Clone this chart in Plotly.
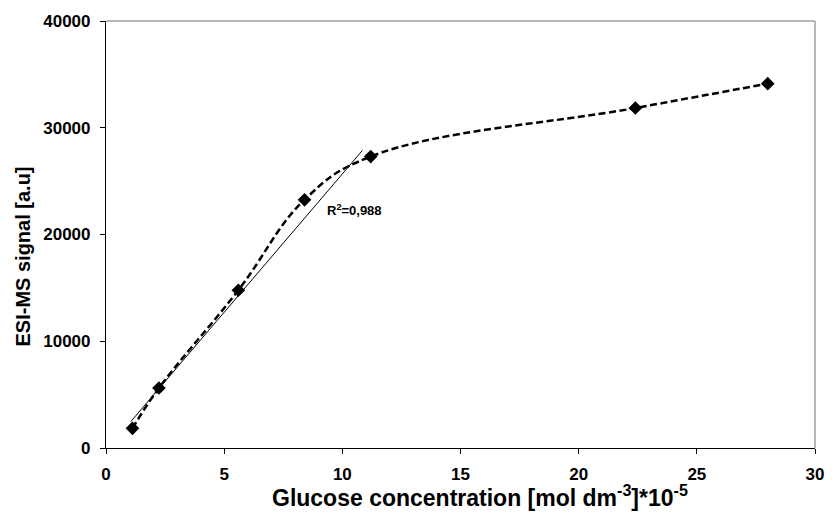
import plotly.graph_objects as go
import numpy as np

# Data
conc = [1.12, 2.24, 5.6, 8.4, 11.2, 22.4, 28.0]
signal = [1840, 5620, 14780, 23250, 27300, 31850, 34130]
fit_n = 5                     # points used for the linear trendline
trend_x = [1.05, 10.85]
r2_label = "R<sup>2</sup>=0,988"
x_ticks = [0, 5, 10, 15, 20, 25, 30]
y_ticks = [0, 10000, 20000, 30000, 40000]
x_title = "<b>Glucose concentration [mol dm<sup>-3</sup>]*10<sup>-5</sup></b>"
y_title = "<b>ESI-MS signal [a.u]</b>"

slope, intercept = np.polyfit(conc[:fit_n], signal[:fit_n], 1)
trend_y = [slope * x + intercept for x in trend_x]

font = "Liberation Sans, Arial, sans-serif"

fig = go.Figure()
fig.add_trace(go.Scatter(
    x=trend_x, y=trend_y, mode="lines",
    line=dict(color="black", width=1), hoverinfo="skip", showlegend=False))
fig.add_trace(go.Scatter(
    x=conc, y=signal, mode="lines+markers",
    line=dict(color="black", width=2.5, dash="7px,3.5px", shape="spline", smoothing=1.15),
    marker=dict(symbol="diamond", size=10.5, color="black"),
    showlegend=False))

fig.add_annotation(x=9.25, y=22250, text="<b>" + r2_label + "</b>", showarrow=False,
                   xanchor="left", yanchor="middle",
                   font=dict(family=font, size=13, color="black"))

# axis titles
fig.add_annotation(xref="paper", yref="paper", x=0.5, y=0, xshift=19, yshift=-48,
                   text=x_title, showarrow=False, xanchor="center", yanchor="middle",
                   font=dict(family=font, size=23, color="black"))
fig.add_annotation(xref="paper", yref="paper", x=0, y=0.5, xshift=-84, yshift=-22,
                   text=y_title, showarrow=False, textangle=-90,
                   xanchor="center", yanchor="middle",
                   font=dict(family=font, size=20, color="black"))

# grey plot-area border on top and right
fig.add_shape(type="line", xref="paper", yref="paper", x0=0, x1=1, y0=1, y1=1,
              line=dict(color="#a0a0a0", width=1.5))
fig.add_shape(type="line", xref="paper", yref="paper", x0=1, x1=1, y0=0, y1=1,
              line=dict(color="#a0a0a0", width=1.5))

fig.update_layout(
    width=836, height=525,
    margin=dict(l=106, r=12, t=18, b=77),
    paper_bgcolor="white", plot_bgcolor="white",
    font=dict(family=font, color="black"),
    xaxis=dict(range=[0, 30], tickvals=x_ticks,
               ticktext=["<b>%d</b>" % v for v in x_ticks],
               showgrid=False, zeroline=False,
               showline=True, linecolor="black", linewidth=1.2,
               ticks="outside", ticklen=5, tickcolor="black",
               ticklabelstandoff=5,
               tickfont=dict(size=17)),
    yaxis=dict(range=[0, 40000], tickvals=y_ticks,
               ticktext=["<b>%d</b>" % v for v in y_ticks],
               showgrid=False, zeroline=False,
               showline=True, linecolor="black", linewidth=1.2,
               ticks="outside", ticklen=5, tickcolor="black",
               ticklabelstandoff=6,
               tickfont=dict(size=17)),
)

fig.write_html("out.html")
